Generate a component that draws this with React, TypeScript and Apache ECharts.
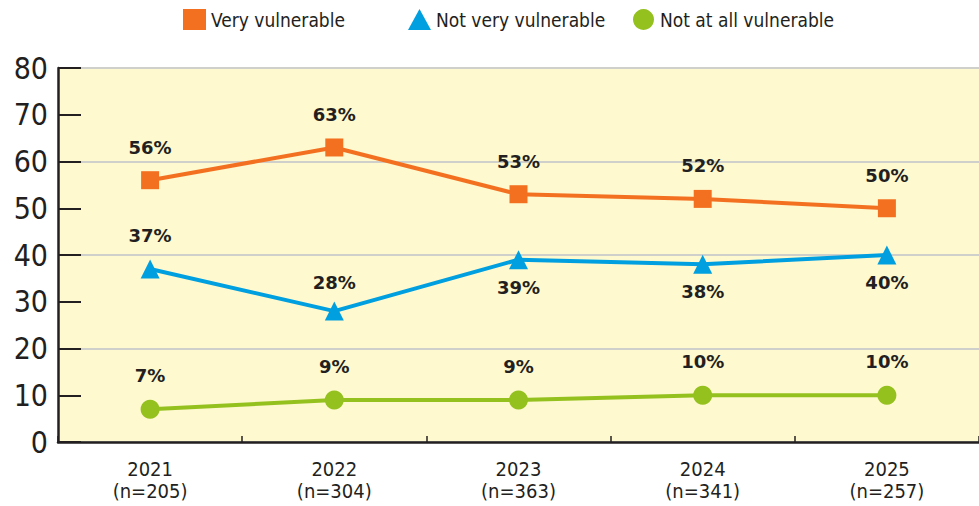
import React, { useEffect, useRef } from "react";
import * as echarts from "echarts";

const years = ["2021", "2022", "2023", "2024", "2025"];
const sampleSizes = ["205", "304", "363", "341", "257"];
const veryVulnerable = [56, 63, 53, 52, 50];
const notVeryVulnerable = [37, 28, 39, 38, 40];
const notAtAllVulnerable = [7, 9, 9, 10, 10];
const notVeryLabelBelow = [false, false, true, true, true];
const yTicks = [0, 10, 20, 30, 40, 50, 60, 70, 80];

const ORANGE = "#F37021";
const BLUE = "#009FDF";
const GREEN = "#95C11F";
const INK = "#231F20";
const FONT = "'DejaVu Sans Condensed', 'DejaVu Sans', sans-serif";

export default function App() {
  const ref = useRef<HTMLDivElement>(null);
  useEffect(() => {
    const chart = echarts.init(ref.current!, null, { renderer: "svg" });
    const labelStyle = {
      show: true,
      formatter: "{c}%",
      fontFamily: "'DejaVu Sans', sans-serif",
      fontWeight: "bold" as const,
      fontSize: 18,
      color: INK,
    };
    const legendBase = {
      top: 4,
      itemWidth: 23,
      itemHeight: 21,
      textStyle: { fontFamily: FONT, fontSize: 19, color: INK },
      selectedMode: false,
    };
    chart.setOption({
      animation: false,
      backgroundColor: "#ffffff",
      legend: [
        { ...legendBase, left: 178, data: [{ name: "Very vulnerable", icon: "rect" }] },
        { ...legendBase, left: 403, data: [{ name: "Not very vulnerable", icon: "triangle" }] },
        { ...legendBase, left: 628, data: [{ name: "Not at all vulnerable", icon: "circle" }] },
      ],
      grid: { left: 58, right: -4, top: 68, bottom: 64, containLabel: false, show: true, backgroundColor: "#FEF9CF", borderWidth: 0 },
      xAxis: {
        type: "category",
        data: years.map((y, i) => `${y}\n(n=${sampleSizes[i]})`),
        boundaryGap: true,
        axisLine: { lineStyle: { color: INK, width: 2.5 } },
        axisTick: { show: true, inside: true, length: 6, lineStyle: { color: INK, width: 1.5 } },
        axisLabel: { fontFamily: FONT, fontSize: 20, color: INK, margin: 16, lineHeight: 22 },
        splitLine: { show: false },
      },
      yAxis: [
        {
          type: "value",
          min: 0,
          max: 80,
          interval: 20,
          axisLine: { show: false },
          axisTick: { show: false },
          axisLabel: { show: false },
          splitLine: { show: true, lineStyle: { color: "#CFCFCB", width: 2 } },
        },
        {
          type: "value",
          position: "left",
          min: 0,
          max: 80,
          interval: 10,
          axisLine: { show: true, lineStyle: { color: INK, width: 2.5 } },
          axisTick: { show: true, inside: true, length: 23, lineStyle: { color: INK, width: 2 } },
          axisLabel: { fontFamily: FONT, fontSize: 30, color: INK, margin: 10, formatter: (v: number) => (yTicks.includes(v) ? String(v) : "") },
          splitLine: { show: false },
        },
      ],
      series: [
        {
          name: "Very vulnerable",
          type: "line",
          data: veryVulnerable,
          color: ORANGE,
          symbol: "rect",
          symbolSize: 18,
          lineStyle: { width: 4, color: ORANGE },
          itemStyle: { color: ORANGE },
          label: { ...labelStyle, position: "top", distance: 15 },
          z: 3,
        },
        {
          name: "Not very vulnerable",
          type: "line",
          data: notVeryVulnerable.map((v, i) => ({
            value: v,
            label: notVeryLabelBelow[i]
              ? { position: "bottom", distance: 9 }
              : { position: "top", distance: i === 1 ? 10 : 15 },
          })),
          color: BLUE,
          symbol: "triangle",
          symbolSize: 19,
          lineStyle: { width: 4, color: BLUE },
          itemStyle: { color: BLUE },
          label: { ...labelStyle },
          z: 3,
        },
        {
          name: "Not at all vulnerable",
          type: "line",
          data: notAtAllVulnerable,
          color: GREEN,
          symbol: "circle",
          symbolSize: 19,
          lineStyle: { width: 4, color: GREEN },
          itemStyle: { color: GREEN },
          label: { ...labelStyle, position: "top", distance: 15 },
          z: 3,
        },
      ],
    });
    return () => chart.dispose();
  }, []);
  return <div ref={ref} style={{ width: 979, height: 506, position: "absolute", left: 0, top: 0 }} />;
}
